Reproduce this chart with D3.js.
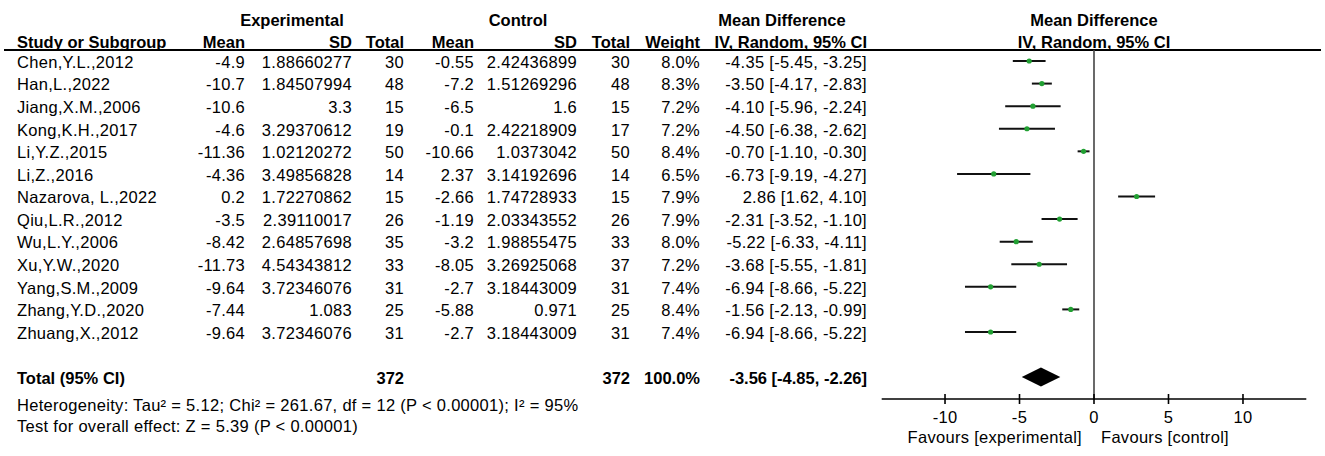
<!DOCTYPE html>
<html>
<head>
<meta charset="utf-8">
<script src="https://cdn.jsdelivr.net/npm/d3@7"></script>
<style>
  body { margin: 0; background: #fff; }
  svg text { font-family: Arial, "Liberation Sans", sans-serif; font-size: 16.5px; fill: #000; letter-spacing: 0.3px; }
  svg text.b { font-weight: bold; letter-spacing: 0; }
</style>
</head>
<body>
<div id="graphic"></div>
<script>
var studies = ["Chen,Y.L.,2012", "Han,L.,2022", "Jiang,X.M.,2006", "Kong,K.H.,2017", "Li,Y.Z.,2015", "Li,Z.,2016",
  "Nazarova, L.,2022", "Qiu,L.R.,2012", "Wu,L.Y.,2006", "Xu,Y.W.,2020", "Yang,S.M.,2009", "Zhang,Y.D.,2020", "Zhuang,X.,2012"];
var expMean = [-4.9, -10.7, -10.6, -4.6, -11.36, -4.36, 0.2, -3.5, -8.42, -11.73, -9.64, -7.44, -9.64];
var expSD = [1.88660277, 1.84507994, 3.3, 3.29370612, 1.02120272, 3.49856828, 1.72270862, 2.39110017, 2.64857698, 4.54343812, 3.72346076, 1.083, 3.72346076];
var expTotal = [30, 48, 15, 19, 50, 14, 15, 26, 35, 33, 31, 25, 31];
var ctrlMean = [-0.55, -7.2, -6.5, -0.1, -10.66, 2.37, -2.66, -1.19, -3.2, -8.05, -2.7, -5.88, -2.7];
var ctrlSD = [2.42436899, 1.51269296, 1.6, 2.42218909, 1.0373042, 3.14192696, 1.74728933, 2.03343552, 1.98855475, 3.26925068, 3.18443009, 0.971, 3.18443009];
var ctrlTotal = [30, 48, 15, 17, 50, 14, 15, 26, 33, 37, 31, 25, 31];
var weight = [8.0, 8.3, 7.2, 7.2, 8.4, 6.5, 7.9, 7.9, 8.0, 7.2, 7.4, 8.4, 7.4];
var md = [-4.35, -3.50, -4.10, -4.50, -0.70, -6.73, 2.86, -2.31, -5.22, -3.68, -6.94, -1.56, -6.94];
var ciLow = [-5.45, -4.17, -5.96, -6.38, -1.10, -9.19, 1.62, -3.52, -6.33, -5.55, -8.66, -2.13, -8.66];
var ciHigh = [-3.25, -2.83, -2.24, -2.62, -0.30, -4.27, 4.10, -1.10, -4.11, -1.81, -5.22, -0.99, -5.22];
var total = {exp: 372, ctrl: 372, weight: 100.0, md: -3.56, lo: -4.85, hi: -2.26};
var axisTicks = [-10, -5, 0, 5, 10];
var heterogeneity = "Heterogeneity: Tau² = 5.12; Chi² = 261.67, df = 12 (P < 0.00001); I² = 95%";
var overall = "Test for overall effect: Z = 5.39 (P < 0.00001)";

var width = 1325, height = 456;

var svg = d3.select("#graphic").append("svg").attr("width", width).attr("height", height);

var x = d3.scaleLinear().domain([-14.25, 14.25]).range([881.7, 1306.3]);
var y = d3.scalePoint().domain(studies).range([61, 332]);
var totalY = 377;

var f2 = function(v) { return v.toFixed(2); };
var ciText = function(m, l, h) { return f2(m) + " [" + f2(l) + ", " + f2(h) + "]"; };

// columns: right edges of the table
var cols = [
  {x: 245, v: expMean},
  {x: 352, v: expSD},
  {x: 404, v: expTotal},
  {x: 474, v: ctrlMean},
  {x: 577, v: ctrlSD},
  {x: 630, v: ctrlTotal},
  {x: 700, v: weight.map(function(w) { return w.toFixed(1) + "%"; })},
  {x: 867, v: md.map(function(m, i) { return ciText(m, ciLow[i], ciHigh[i]); })}
];

function txt(t, px, py, anchor, bold) {
  return svg.append("text").attr("x", px).attr("y", py).attr("dy", "0.35em")
    .attr("text-anchor", anchor || "start").attr("class", bold ? "b" : null).text(t);
}

// header
txt("Experimental", 292, 20, "middle", true);
txt("Control", 518, 20, "middle", true);
txt("Mean Difference", 782, 20, "middle", true);
txt("Mean Difference", x(0), 20, "middle", true);
txt("Study or Subgroup", 17, 42, "start", true);
["Mean", "SD", "Total", "Mean", "SD", "Total", "Weight", "IV, Random, 95% CI"].forEach(function(h, i) {
  txt(h, cols[i].x, 42, "end", true);
});
txt("IV, Random, 95% CI", x(0), 42, "middle", true);
svg.append("line").attr("x1", 4).attr("x2", 1321).attr("y1", 50).attr("y2", 50)
  .attr("stroke", "#000").attr("stroke-width", 2);

// study rows
var rows = svg.selectAll("g.row").data(studies).enter().append("g").attr("class", "row")
  .attr("transform", function(d) { return "translate(0," + (y(d) + 1) + ")"; });
rows.append("text").attr("x", 17).attr("dy", "0.35em").text(function(d) { return d; });
cols.forEach(function(c) {
  rows.append("text").attr("x", c.x).attr("dy", "0.35em").attr("text-anchor", "end")
    .text(function(d, i) { return c.v[i]; });
});

// totals
txt("Total (95% CI)", 17, totalY + 1, "start", true);
txt(total.exp, cols[2].x, totalY + 1, "end", true);
txt(total.ctrl, cols[5].x, totalY + 1, "end", true);
txt(total.weight.toFixed(1) + "%", cols[6].x, totalY + 1, "end", true);
txt(ciText(total.md, total.lo, total.hi), cols[7].x, totalY + 1, "end", true);
txt(heterogeneity, 17, 405, "start");
txt(overall, 17, 426, "start");

// forest plot
svg.append("line").attr("x1", x(0)).attr("x2", x(0)).attr("y1", 50).attr("y2", 400)
  .attr("stroke", "#444").attr("stroke-width", 1.6);

var forest = svg.append("g");
forest.selectAll("line.ci").data(studies).enter().append("line").attr("class", "ci")
  .attr("x1", function(d, i) { return x(ciLow[i]); })
  .attr("x2", function(d, i) { return x(ciHigh[i]); })
  .attr("y1", function(d) { return y(d); })
  .attr("y2", function(d) { return y(d); })
  .attr("stroke", "#111").attr("stroke-width", 2);
forest.selectAll("circle.pt").data(studies).enter().append("circle").attr("class", "pt")
  .attr("cx", function(d, i) { return x(md[i]); })
  .attr("cy", function(d) { return y(d); })
  .attr("r", 2.6)
  .attr("fill", "#22a033");

forest.append("path")
  .attr("d", "M" + x(total.lo) + "," + totalY + "L" + x(total.md) + "," + (totalY - 9.5) +
    "L" + x(total.hi) + "," + totalY + "L" + x(total.md) + "," + (totalY + 9.5) + "Z")
  .attr("fill", "#000");

// axis
var axis = svg.append("g").attr("transform", "translate(0,399)");
axis.append("line").attr("x1", x.range()[0]).attr("x2", x.range()[1])
  .attr("stroke", "#000").attr("stroke-width", 1.6);
axis.selectAll("line.tick").data(axisTicks).enter().append("line").attr("class", "tick")
  .attr("x1", x).attr("x2", x).attr("y1", -5).attr("y2", 5)
  .attr("stroke", "#000").attr("stroke-width", 1.6);
axis.selectAll("text").data(axisTicks).enter().append("text")
  .attr("x", x).attr("y", 18).attr("dy", "0.35em").attr("text-anchor", "middle")
  .text(function(d) { return d; });

txt("Favours [experimental]", 1082, 437, "end");
txt("Favours [control]", 1101, 437, "start");
</script>
</body>
</html>
